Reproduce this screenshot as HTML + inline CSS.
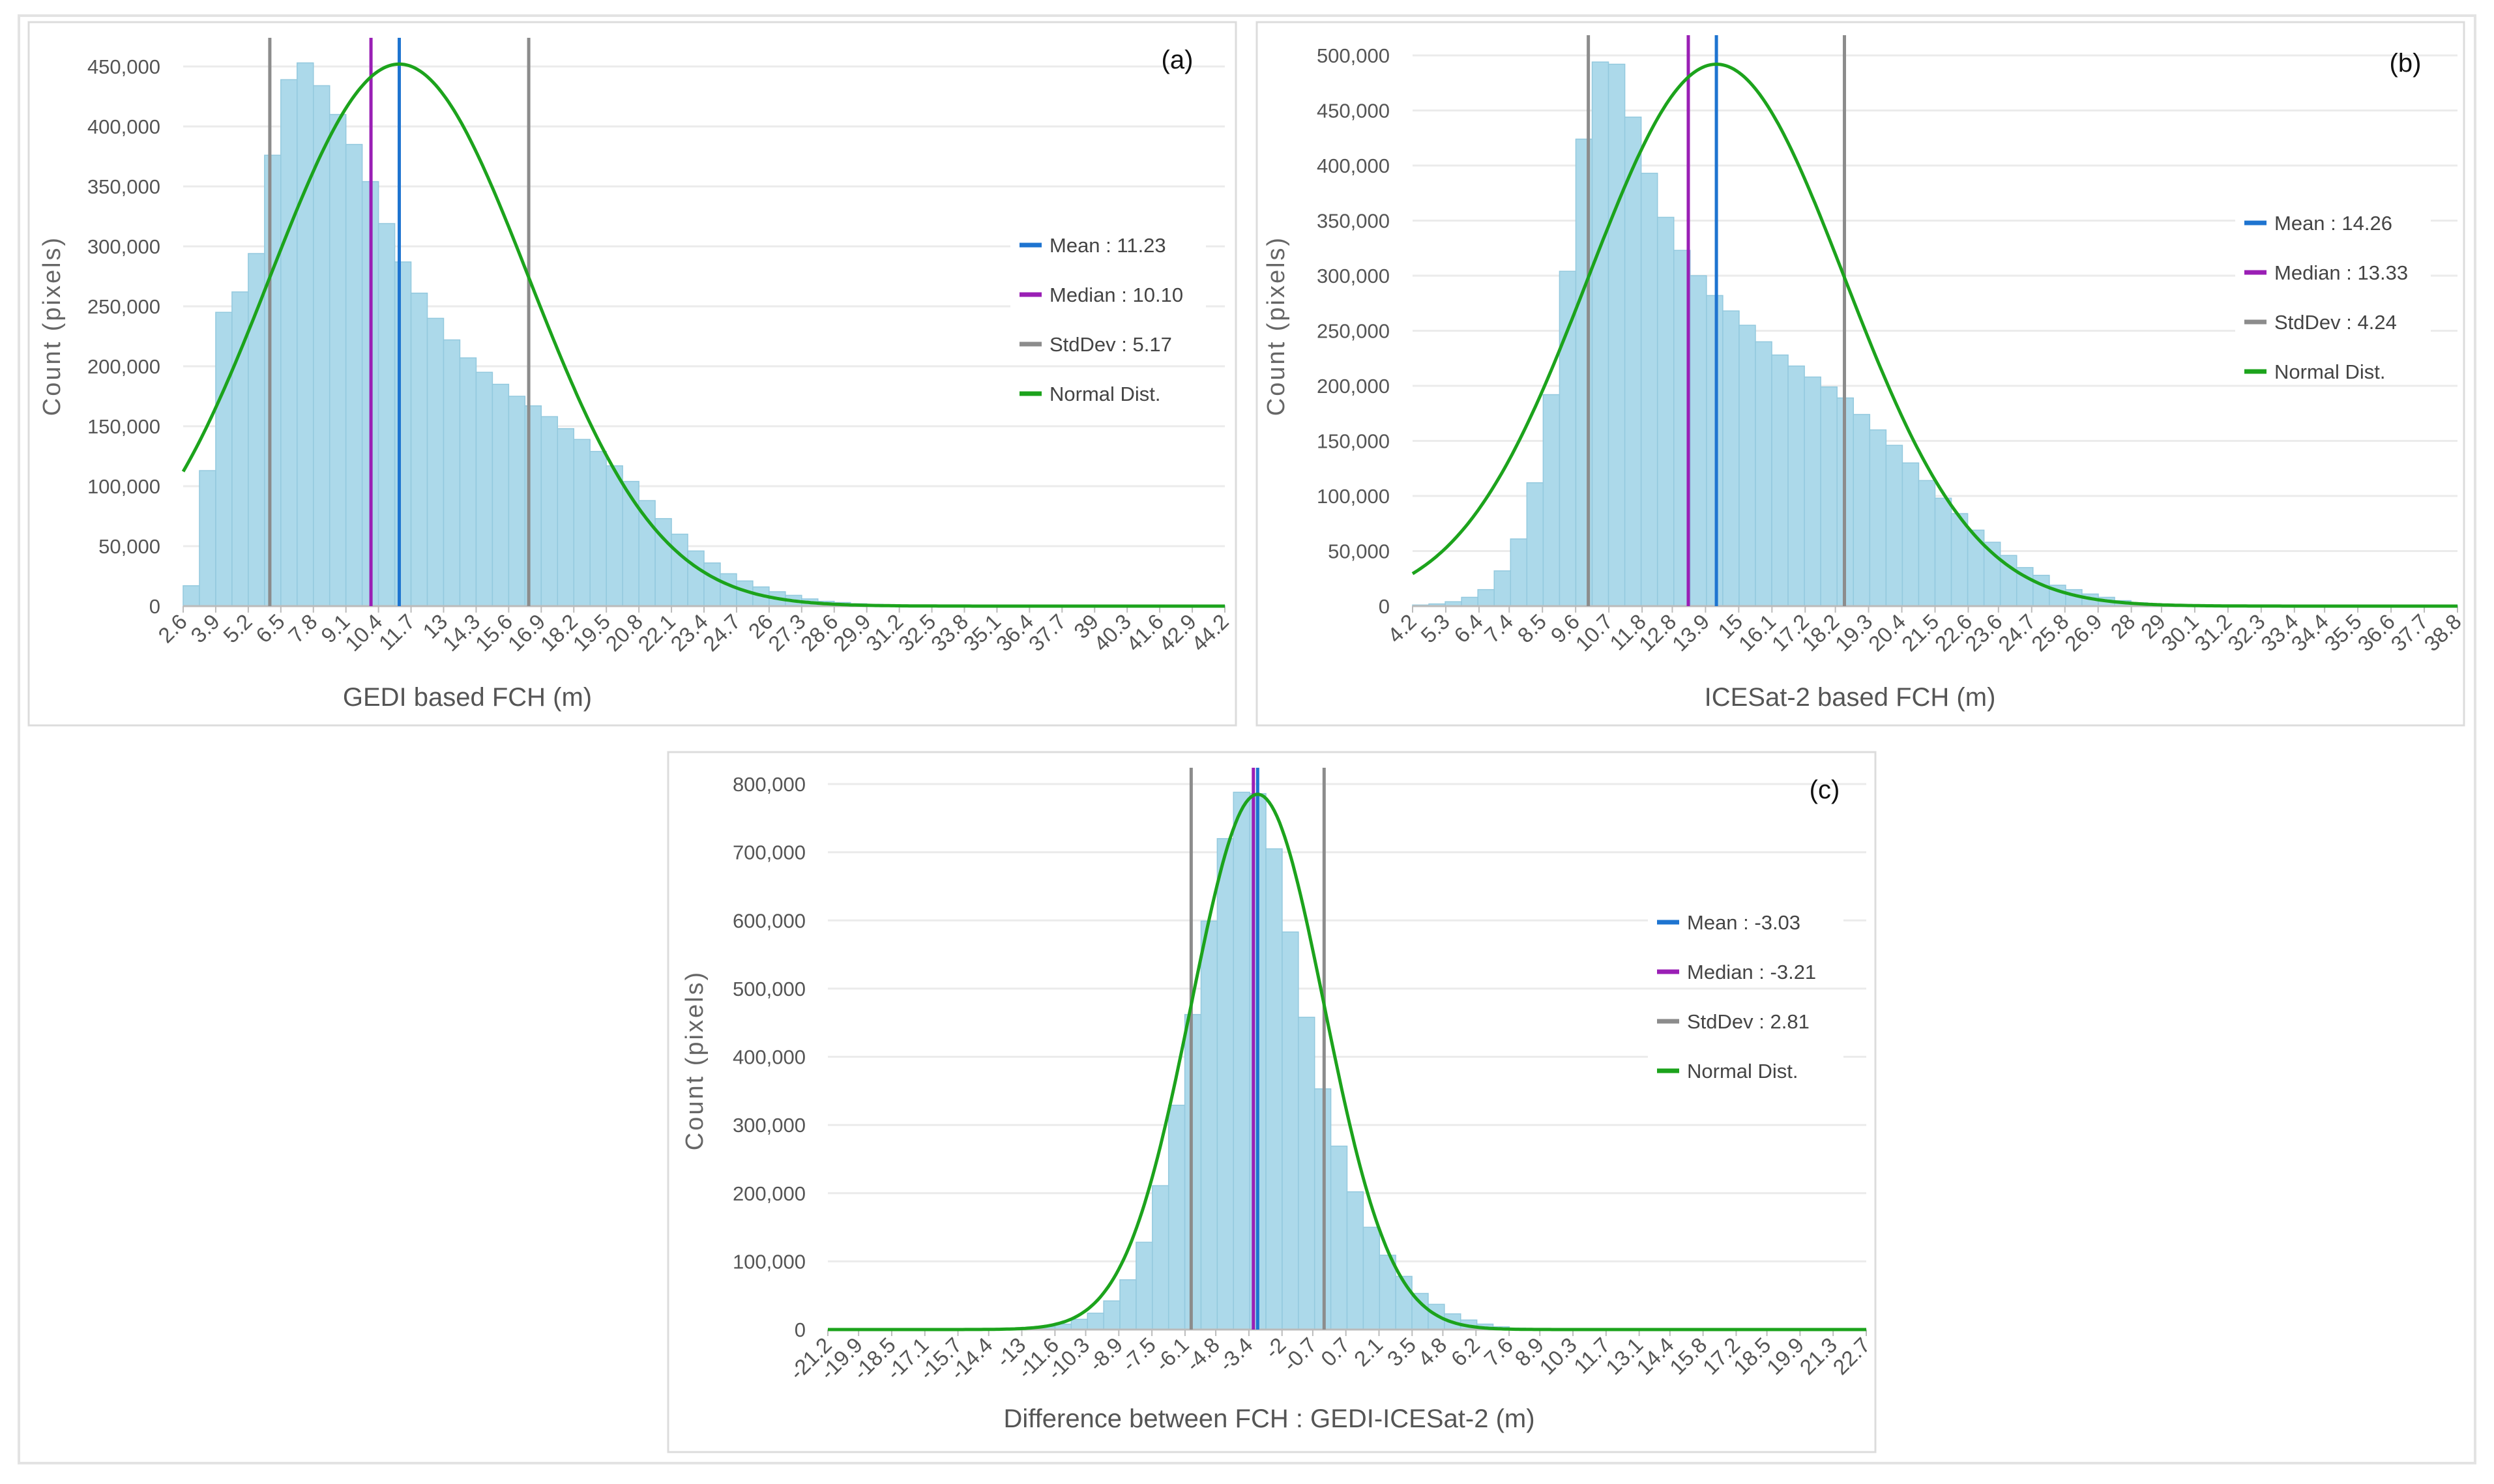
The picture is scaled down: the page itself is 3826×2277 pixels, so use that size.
<!DOCTYPE html>
<html><head><meta charset="utf-8">
<style>
html,body{margin:0;padding:0;background:#fff;}
svg{display:block;}
text{font-family:"Liberation Sans",sans-serif;}
</style></head>
<body>
<svg id="fig" width="3826" height="2277" viewBox="0 0 3826 2277" xmlns="http://www.w3.org/2000/svg">
<rect x="0" y="0" width="3826" height="2277" fill="#fff"/>
<rect x="29" y="24" width="3768" height="2221" fill="none" stroke="#e3e3e3" stroke-width="4"/>
</svg>
<script>
// ---- Panel (a) data ----
const aTicks = ["2.6","3.9","5.2","6.5","7.8","9.1","10.4","11.7","13","14.3","15.6","16.9","18.2","19.5","20.8","22.1","23.4","24.7","26","27.3","28.6","29.9","31.2","32.5","33.8","35.1","36.4","37.7","39","40.3","41.6","42.9","44.2"];
const aYTicks = [0,50000,100000,150000,200000,250000,300000,350000,400000,450000];
const aCounts = [17,113,245,262,294,376,439,453,434,410,385,354,319,287,261,240,222,207,195,185,175,167,158,148,139,129,117,104,88,73,60,46,36,27,21,16,12,9,6,4,3,2,1.5,1,0.8,0.6,0.5,0.5,0.5,0.5,0.5,0.5,0.5,0.5,0.5,0.5,0.5,0.5,0.5,0.5,0.5,0.5,0.5,0.5];
const aStats = [11.23, 10.10, 5.17];
const aLegend = ["Mean : 11.23","Median : 10.10","StdDev : 5.17","Normal Dist."];

// ---- Panel (b) data ----
const bTicks = ["4.2","5.3","6.4","7.4","8.5","9.6","10.7","11.8","12.8","13.9","15","16.1","17.2","18.2","19.3","20.4","21.5","22.6","23.6","24.7","25.8","26.9","28","29","30.1","31.2","32.3","33.4","34.4","35.5","36.6","37.7","38.8"];
const bYTicks = [0,50000,100000,150000,200000,250000,300000,350000,400000,450000,500000];
const bCounts = [1,2,4,8,15,32,61,112,192,304,424,494,492,444,393,353,323,300,282,268,255,240,228,218,208,199,189,174,160,146,130,114,98,84,69,58,46,35,28,19,15,11,8,5,3,2,1.5,1,0.8,0.6,0.5,0.5,0.5,0.5,0.5,0.5,0.5,0.5,0.5,0.5,0.5,0.5,0.5,0.5];
const bStats = [14.26, 13.33, 4.24];
const bLegend = ["Mean : 14.26","Median : 13.33","StdDev : 4.24","Normal Dist."];

// ---- Panel (c) data ----
const cTicks = ["-21.2","-19.9","-18.5","-17.1","-15.7","-14.4","-13","-11.6","-10.3","-8.9","-7.5","-6.1","-4.8","-3.4","-2","-0.7","0.7","2.1","3.5","4.8","6.2","7.6","8.9","10.3","11.7","13.1","14.4","15.8","17.2","18.5","19.9","21.3","22.7"];
const cYTicks = [0,100000,200000,300000,400000,500000,600000,700000,800000];
const cCounts = [0,0,0,0,0,0,0,0,0,0,0.5,1,2,4,8,15,24,42,73,128,211,329,462,599,720,788,786,705,583,458,353,269,202,150,109,78,53,37,23,14,8,4,2,1,0.5,0.5,0,0,0,0,0,0,0,0,0,0,0,0,0,0,0,0,0,0];
const cStats = [-3.03, -3.21, 2.81];
const cLegend = ["Mean : -3.03","Median : -3.21","StdDev : 2.81","Normal Dist."];

const NS = "http://www.w3.org/2000/svg";
const svg = document.getElementById('fig');
function mk(tag, attrs, parent, txt){
  const e = document.createElementNS(NS, tag);
  for (const k in attrs) e.setAttribute(k, attrs[k]);
  if (txt !== undefined) e.textContent = txt;
  (parent || svg).appendChild(e);
  return e;
}
function fmt(v){ return v.toLocaleString('en-US'); }

function panel(cfg){
  const g = mk('g', {});
  
  
  const fr = mk('rect', {x:cfg.frame[0], y:cfg.frame[1], width:cfg.frame[2], height:cfg.frame[3], fill:'#fff', stroke:'#dcdcdc', 'stroke-width':3}, g);
  
  
  const L = cfg.left, R = cfg.right, Y0 = cfg.y0, YT = cfg.ytop;
  const ticks = cfg.ticks;
  const xmin = parseFloat(ticks[0]), xmax = parseFloat(ticks[ticks.length-1]);
  const yMaxTick = cfg.yticks[cfg.yticks.length-1];
  const xs = v => L + (v - xmin) / (xmax - xmin) * (R - L);
  const ys = v => Y0 - v / yMaxTick * (Y0 - YT);
  cfg.yticks.forEach(t => {
    const gl = mk('line', {x1:L, x2:R, y1:ys(t), y2:ys(t), stroke:'#ebebeb', 'stroke-width':3}, g);
    
    
    const tl = mk('text', {x:cfg.ylabX, y:ys(t)+11, 'text-anchor':'end', 'font-size':31, fill:'#555'}, g, fmt(t));
    
    
  });
  const n = cfg.counts.length;
  const bw = (xmax - xmin) / n;
  cfg.counts.forEach((c, i) => {
    if (c <= 0) return;
    const x1 = xs(xmin + i*bw), x2 = xs(xmin + (i+1)*bw);
    const b = mk('rect', {x:x1, y:ys(c*1000), width:x2-x1, height:Y0-ys(c*1000), fill:'#acd9ea', stroke:'#93c9de', 'stroke-width':1.5}, g);
    
    
  });
  mk('line', {x1:L, x2:R, y1:Y0, y2:Y0, stroke:'#bbb', 'stroke-width':3}, g);
  ticks.forEach(t => {
    const x = xs(parseFloat(t));
    mk('line', {x1:x, x2:x, y1:Y0, y2:Y0+10, stroke:'#bbb', 'stroke-width':2}, g);
    const tl = mk('text', {x:x+8, y:Y0+26, 'text-anchor':'end', 'font-size':33, fill:'#555', transform:`rotate(-45 ${x+8} ${Y0+26})`}, g, t);
    
    
  });
  const [mean, med, sd] = cfg.stats;
  const vl = (v, col, nm) => {
    const l = mk('line', {x1:xs(v), x2:xs(v), y1:cfg.lineTop, y2:Y0, stroke:col, 'stroke-width':5}, g);
    
    
  };
  vl(mean - sd, '#8c8c8c', 'stddev-line-low');
  vl(mean + sd, '#8c8c8c', 'stddev-line-high');
  vl(med, '#9a1fb5', 'median-line');
  vl(mean, '#1e74d0', 'mean-line');
  const peak = cfg.peak;
  let d = '';
  for (let k = 0; k <= 400; k++) {
    const v = xmin + (xmax - xmin) * k / 400;
    const z = (v - mean) / sd;
    const yv = peak * Math.exp(-0.5*z*z);
    d += (k ? 'L' : 'M') + xs(v).toFixed(1) + ' ' + ys(yv).toFixed(1);
  }
  const cv = mk('path', {d:d, fill:'none', stroke:'#1ca31c', 'stroke-width':5}, g);
  
  
  const cols = ['#1e74d0','#9a1fb5','#8c8c8c','#1ca31c'];
  cfg.legend.forEach((s, i) => {
    const y = cfg.legY + i*76;
    mk('rect', {x:cfg.legX-14, y:y-28, width:300, height:48, fill:'#fff'}, g);
    const sw = mk('line', {x1:cfg.legX, x2:cfg.legX+34, y1:y, y2:y, stroke:cols[i], 'stroke-width':7}, g);
    
    
    const t = mk('text', {x:cfg.legX+46, y:y+11, 'font-size':31, fill:'#444'}, g, s);
    
    
  });
  const pl = mk('text', {x:cfg.tag[0], y:cfg.tag[1], 'text-anchor':'middle', 'font-size':40, fill:'#111'}, g, cfg.tagText);
  
  
  const yt = mk('text', {x:cfg.yTitle[0], y:cfg.yTitle[1], 'text-anchor':'middle', 'font-size':38, fill:'#666', 'letter-spacing':3, transform:`rotate(-90 ${cfg.yTitle[0]} ${cfg.yTitle[1]})`}, g, 'Count (pixels)');
  
  
  const xt = mk('text', {x:cfg.xTitle[0], y:cfg.xTitle[1], 'text-anchor':'middle', 'font-size':40, fill:'#555'}, g, cfg.xTitleText);
  
  
}

panel({name:'chart-a-gedi', frame:[44,34,1852,1079], left:281, right:1879, y0:930, ytop:102, ylabX:246,
  ticks:aTicks, yticks:aYTicks, counts:aCounts, stats:aStats, peak:452000, lineTop:58,
  legend:aLegend, legX:1564, legY:376, tag:[1806,105], tagText:'(a)', yTitle:[92,500], xTitle:[717,1083], xTitleText:'GEDI based FCH (m)'});
panel({name:'chart-b-icesat', frame:[1928,34,1852,1079], left:2167, right:3770, y0:930, ytop:85, ylabX:2132,
  ticks:bTicks, yticks:bYTicks, counts:bCounts, stats:bStats, peak:492000, lineTop:54,
  legend:bLegend, legX:3443, legY:342, tag:[3690,110], tagText:'(b)', yTitle:[1970,500], xTitle:[2838,1083], xTitleText:'ICESat-2 based FCH (m)'});
panel({name:'chart-c-difference', frame:[1025,1154,1852,1074], left:1270, right:2863, y0:2040, ytop:1203, ylabX:1236,
  ticks:cTicks, yticks:cYTicks, counts:cCounts, stats:cStats, peak:785000, lineTop:1178,
  legend:cLegend, legX:2542, legY:1415, tag:[2799,1225], tagText:'(c)', yTitle:[1078,1627], xTitle:[1947,2190], xTitleText:'Difference between FCH : GEDI-ICESat-2 (m)'});
</script>
</body></html>
